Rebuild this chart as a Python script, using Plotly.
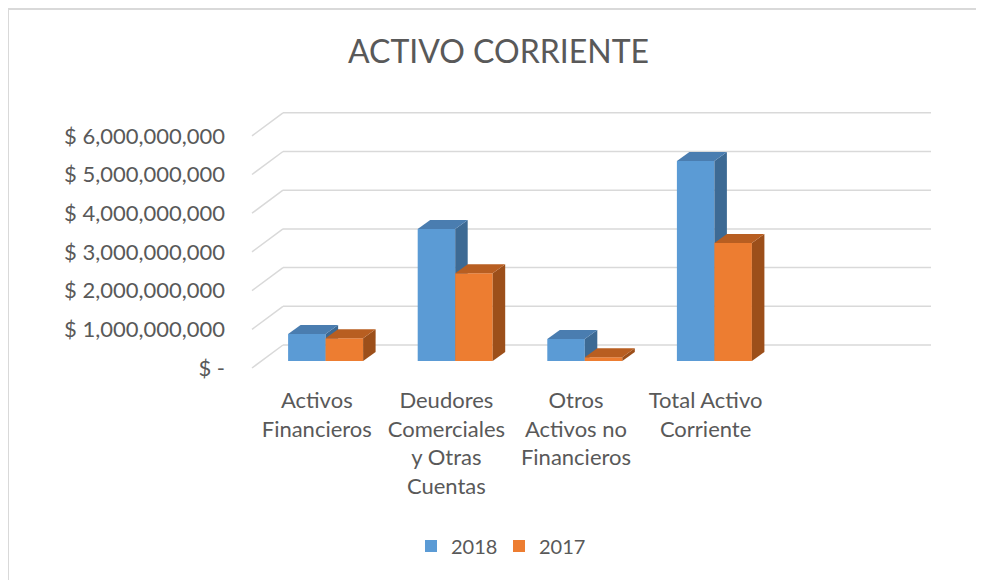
import plotly.graph_objects as go

# ---------------- data ----------------
categories = [
    "Activos<br>Financieros",
    "Deudores<br>Comerciales<br>y Otras<br>Cuentas",
    "Otros<br>Activos no<br>Financieros",
    "Total Activo<br>Corriente",
]
series_names = ["2018", "2017"]
values_2018 = [700_000_000, 3_410_000_000, 570_000_000, 5_170_000_000]
values_2017 = [590_000_000, 2_270_000_000, 100_000_000, 3_050_000_000]
y_ticks = [0, 1e9, 2e9, 3e9, 4e9, 5e9, 6e9]
y_tick_labels = ["$ -", "$ 1,000,000,000", "$ 2,000,000,000", "$ 3,000,000,000",
                 "$ 4,000,000,000", "$ 5,000,000,000", "$ 6,000,000,000"]
title_text = "ACTIVO CORRIENTE"

# ---------------- styling / geometry ----------------
FONT = "Lato, 'Open Sans', sans-serif"
TXT = "#595959"
GRID = "#D9D9D9"
front_colors = ["#5B9BD5", "#ED7D31"]
top_colors = ["#4A7DB0", "#B85E21"]
side_colors = ["#3D6A94", "#9C4F1A"]

OFF = 8                                    # page body margin
W_PX, H_PX = 984 - OFF, 580 - OFF
L, R, T, B = 226 - OFF, 940 - OFF, 100 - OFF, 384 - OFF   # plot area (figure px)
FRONT_X = 252 - OFF                        # front-plane left edge
SLOT_PX = 129.6                            # pixels per category slot
N_SLOTS = 5                                # Excel axis had 5 slots (last empty)
BASE_PX = 361 - OFF                        # bar base
PX_PER_UNIT = 38.7 / 1e9                   # pixels per dollar

def dy(px):
    return px / PX_PER_UNIT

def dx(px):
    return px / SLOT_PX

FS = dy(7)        # front plane below bar base
BS = dy(16)       # back wall above bar base
BACK_DX = dx(31)  # back wall shift right
BAR_DX = dx(8.8)  # bar front shift right from front plane
BW = dx(37.5)     # bar width
DEP_X = dx(12.5)  # bar depth (x)
DEP_Y = dy(9)     # bar depth (y)

x_range = [dx(L - FRONT_X), dx(R - FRONT_X)]
y_range = [dy(BASE_PX - B), dy(BASE_PX - T)]

fig = go.Figure()

all_values = [values_2018, values_2017]
for s, (name, vals) in enumerate(zip(series_names, all_values)):
    centers = [i + 0.5 + BAR_DX for i in range(len(vals))]
    off = -BW if s == 0 else 0.0
    fig.add_trace(go.Bar(
        x=centers, y=vals, base=0, width=BW, offset=off, name=name,
        marker=dict(color=front_colors[s], line=dict(width=0)),
        zorder=s, hoverinfo="skip",
    ))
    for c, v in zip(centers, vals):
        xl = c + off
        xr = xl + BW
        # side face
        fig.add_trace(go.Scatter(
            x=[xr, xr, xr + DEP_X, xr + DEP_X, xr],
            y=[0, v, v + DEP_Y, DEP_Y, 0],
            mode="lines", fill="toself", fillcolor=side_colors[s],
            line=dict(width=0, color=side_colors[s]),
            showlegend=False, hoverinfo="skip", zorder=s,
        ))
        # top face
        fig.add_trace(go.Scatter(
            x=[xl, xr, xr + DEP_X, xl + DEP_X, xl],
            y=[v, v, v + DEP_Y, v + DEP_Y, v],
            mode="lines", fill="toself", fillcolor=top_colors[s],
            line=dict(width=0, color=top_colors[s]),
            showlegend=False, hoverinfo="skip", zorder=s,
        ))

shapes = []
for t in y_ticks:
    # back-wall gridline
    shapes.append(dict(type="line", xref="x", yref="y", layer="below",
                       x0=BACK_DX, x1=N_SLOTS + BACK_DX, y0=t + BS, y1=t + BS,
                       line=dict(color=GRID, width=1.5)))
    # side-wall diagonal
    shapes.append(dict(type="line", xref="x", yref="y", layer="below",
                       x0=0, x1=BACK_DX, y0=t - FS, y1=t + BS,
                       line=dict(color=GRID, width=1.5)))

# chart border (top and left edges visible)
def px_x(p):
    return (p - L) / (R - L)

def px_y(p):
    return (B - p) / (B - T)

shapes.append(dict(type="line", xref="paper", yref="paper",
                   x0=px_x(0), x1=px_x(W_PX), y0=px_y(1), y1=px_y(1),
                   line=dict(color=GRID, width=2)))
shapes.append(dict(type="line", xref="paper", yref="paper",
                   x0=px_x(0), x1=px_x(0), y0=px_y(0), y1=px_y(H_PX),
                   line=dict(color=GRID, width=2)))

fig.update_layout(
    template="none",
    width=W_PX, height=H_PX, autosize=False,
    margin=dict(l=L, r=W_PX - R, t=T, b=H_PX - B, pad=0),
    paper_bgcolor="white", plot_bgcolor="white",
    font=dict(family=FONT, color=TXT, size=21),
    barmode="overlay",
    title=dict(text=title_text, xref="container", yref="container",
               x=(498.5 - OFF) / W_PX, y=1 - (52 - OFF) / H_PX,
               xanchor="center", yanchor="middle",
               font=dict(family=FONT, size=32, color=TXT)),
    xaxis=dict(range=x_range, tickvals=[i + 0.5 for i in range(len(categories))],
               ticktext=categories, showgrid=False, zeroline=False, showline=False,
               ticks="", automargin=False, fixedrange=True, ticklabelstandoff=1,
               tickfont=dict(family=FONT, size=22, color=TXT)),
    yaxis=dict(range=y_range, tickvals=[t - FS for t in y_ticks], ticktext=y_tick_labels,
               showgrid=False, zeroline=False, showline=False, ticks="",
               automargin=False, fixedrange=True,
               tickfont=dict(family=FONT, size=22, color=TXT)),
    legend=dict(orientation="h", x=px_x(499 - OFF), xanchor="center",
                y=px_y(546 - OFF), yanchor="middle", entrywidth=43,
                font=dict(family=FONT, size=20, color=TXT),
                bgcolor="rgba(0,0,0,0)", traceorder="normal"),
    shapes=shapes,
    showlegend=True,
)

fig.write_html("out.html", config={"displayModeBar": False})
